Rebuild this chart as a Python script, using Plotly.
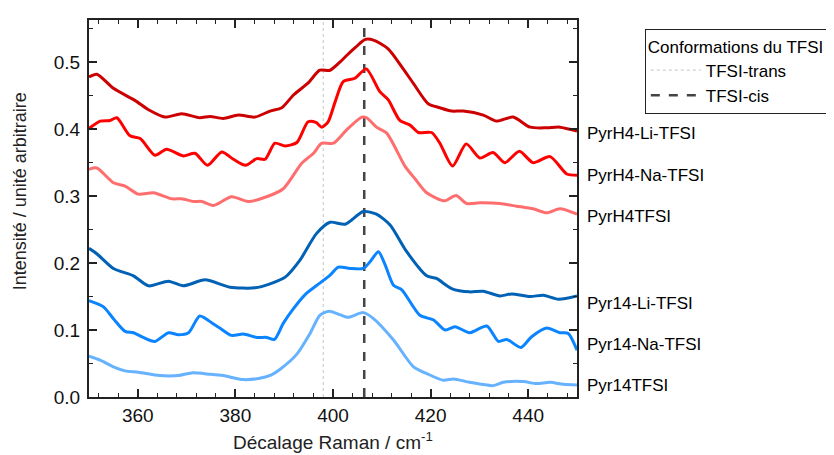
import plotly.graph_objects as go

# ---- data ----
x_h4_li = [350, 351.6, 355, 359.4, 362.2, 365.6, 369, 372.7, 374.8, 377.5, 380.6, 384, 387.1, 389.5, 391.9, 394.9, 397.3, 399.4, 401.4, 402.8, 404.6, 406.6, 408.3, 411.3, 414.1, 416.5, 419.5, 421.9, 424.3, 426.7, 430.8, 433.5, 436.9, 440.4, 443.8, 446.5, 450]
y_h4_li = [0.478, 0.482, 0.461, 0.443, 0.429, 0.418, 0.423, 0.417, 0.419, 0.416, 0.421, 0.418, 0.427, 0.432, 0.451, 0.469, 0.488, 0.488, 0.500, 0.510, 0.522, 0.534, 0.533, 0.520, 0.493, 0.468, 0.438, 0.432, 0.427, 0.427, 0.421, 0.412, 0.418, 0.403, 0.402, 0.403, 0.397]

x_h4_na = [350, 352.3, 354.3, 355.7, 358.4, 360.5, 363.5, 365.9, 369.3, 371.7, 374.3, 377.2, 379.6, 382.1, 384.4, 386.1, 388.1, 390.2, 392.6, 394.9, 396.5, 397.7, 399.0, 400.4, 402.1, 404.5, 406.8, 409.6, 411.3, 413.7, 415.8, 417.5, 420.2, 421.9, 424.5, 427.3, 430.1, 432.8, 435.2, 438.2, 441.0, 444.5, 447.9, 450]
y_h4_na = [0.401, 0.412, 0.413, 0.417, 0.390, 0.386, 0.361, 0.370, 0.360, 0.364, 0.346, 0.366, 0.355, 0.346, 0.356, 0.355, 0.379, 0.375, 0.380, 0.411, 0.410, 0.403, 0.411, 0.440, 0.471, 0.476, 0.490, 0.456, 0.444, 0.413, 0.406, 0.395, 0.395, 0.379, 0.345, 0.378, 0.357, 0.365, 0.350, 0.367, 0.350, 0.359, 0.333, 0.331]

x_h4 = [350, 351.6, 355, 357.4, 360.1, 363.2, 367, 369, 371.4, 373.1, 375.5, 379.2, 382.6, 386.4, 389.8, 393.6, 396, 397.7, 400.1, 402.8, 405.9, 406.9, 408.9, 411, 414.8, 416.8, 419.2, 422.9, 425.2, 427.4, 430.1, 434.2, 437.6, 441, 443.8, 446.5, 450]
y_h4 = [0.340, 0.342, 0.320, 0.315, 0.303, 0.305, 0.296, 0.296, 0.292, 0.292, 0.286, 0.299, 0.292, 0.299, 0.311, 0.349, 0.364, 0.379, 0.379, 0.399, 0.418, 0.417, 0.403, 0.394, 0.344, 0.326, 0.305, 0.293, 0.301, 0.289, 0.290, 0.289, 0.285, 0.281, 0.275, 0.281, 0.273]

x_14_li = [350, 351.6, 355, 359.1, 362.2, 366.3, 369.3, 373.8, 378.9, 384, 387.1, 390.2, 393.2, 396.6, 399.4, 402.5, 406.2, 408.9, 411.7, 415.1, 419.2, 421.2, 424.3, 428, 430.8, 434.2, 436.6, 440.4, 443.1, 446.2, 450]
y_14_li = [0.222, 0.214, 0.192, 0.181, 0.166, 0.173, 0.166, 0.175, 0.164, 0.163, 0.169, 0.179, 0.204, 0.244, 0.261, 0.258, 0.277, 0.273, 0.257, 0.217, 0.181, 0.177, 0.162, 0.157, 0.158, 0.151, 0.154, 0.150, 0.152, 0.146, 0.151]

x_14_na = [350, 352.9, 355, 357.4, 359.1, 361.1, 363.5, 366.3, 368.3, 370.4, 372.7, 375.5, 376.8, 379.2, 381.6, 384.4, 386.4, 388, 389.8, 391.9, 394.3, 397.3, 399.4, 401.1, 403.5, 406.2, 407.6, 409.3, 410.7, 412.4, 414.1, 417.8, 420.6, 423, 425, 428, 431.5, 433.9, 435.6, 438.5, 440.7, 443.8, 446.5, 448.2, 450]
y_14_na = [0.144, 0.135, 0.117, 0.098, 0.096, 0.089, 0.083, 0.096, 0.093, 0.096, 0.121, 0.109, 0.103, 0.092, 0.094, 0.089, 0.089, 0.086, 0.110, 0.132, 0.153, 0.170, 0.182, 0.194, 0.192, 0.192, 0.202, 0.217, 0.197, 0.167, 0.160, 0.122, 0.115, 0.100, 0.105, 0.096, 0.106, 0.083, 0.086, 0.074, 0.090, 0.103, 0.096, 0.095, 0.070]

x_14 = [350, 352.3, 355, 357.4, 360.1, 364.5, 368.3, 371, 374.8, 377.5, 381.6, 385, 387.4, 389.1, 392.6, 395.3, 397.3, 399.2, 401.4, 403.1, 406.2, 408.3, 412.4, 416.5, 419.2, 422.6, 424.7, 428, 432.8, 434.9, 439, 441.7, 444.5, 447.2, 450]
y_14 = [0.061, 0.055, 0.045, 0.039, 0.037, 0.032, 0.032, 0.036, 0.034, 0.032, 0.026, 0.028, 0.033, 0.041, 0.064, 0.095, 0.122, 0.128, 0.123, 0.119, 0.126, 0.117, 0.085, 0.045, 0.035, 0.025, 0.027, 0.022, 0.017, 0.022, 0.023, 0.020, 0.022, 0.019, 0.018]

series_names = ["PyrH4-Li-TFSI", "PyrH4-Na-TFSI", "PyrH4TFSI",
                "Pyr14-Li-TFSI", "Pyr14-Na-TFSI", "Pyr14TFSI"]
series_x = [x_h4_li, x_h4_na, x_h4, x_14_li, x_14_na, x_14]
series_y = [y_h4_li, y_h4_na, y_h4, y_14_li, y_14_na, y_14]

trans_pos = 398.0
cis_pos = 406.4

# ---- styling ----
colors = ["#cc0000", "#ff0000", "#ff6e6e", "#0061b5", "#0a84ff", "#66b2ff"]
label_y = [0.394, 0.331, 0.270, 0.140, 0.078, 0.017]
FONT = "Liberation Sans, Arial, sans-serif"
YMAX = 0.563

fig = go.Figure()

# reference lines (shown in legend)
fig.add_trace(go.Scatter(x=[trans_pos, trans_pos], y=[0, YMAX], mode="lines",
                         line=dict(color="#cfcfcf", width=1.2, dash="dot"),
                         name="TFSI-trans", showlegend=True))
fig.add_trace(go.Scatter(x=[cis_pos, cis_pos], y=[0, YMAX], mode="lines",
                         line=dict(color="#444444", width=2.5, dash="dash"),
                         name="TFSI-cis", showlegend=True))

for name, xs, ys, c in zip(series_names, series_x, series_y, colors):
    fig.add_trace(go.Scatter(x=xs, y=ys, mode="lines", name=name,
                             line=dict(color=c, width=3, shape="spline", smoothing=0.7),
                             showlegend=False))

for name, ly in zip(series_names, label_y):
    fig.add_annotation(x=1.0, xref="paper", y=ly, yref="y", text=name,
                       showarrow=False, xanchor="left", yanchor="middle", xshift=8,
                       font=dict(family=FONT, size=17, color="black"))

# axis titles as annotations for exact placement
fig.add_annotation(x=-0.141, xref="paper", y=0.546, yref="paper",
                   text="Intensité / unité arbitraire", textangle=-90,
                   showarrow=False, xanchor="center", yanchor="middle",
                   font=dict(family=FONT, size=18, color="#222222"))
fig.add_annotation(x=0.5, xref="paper", y=-0.117, yref="paper",
                   text="Décalage Raman / cm<sup>-1</sup>",
                   showarrow=False, xanchor="center", yanchor="middle",
                   font=dict(family=FONT, size=19, color="#222222"))

axis_common = dict(showline=True, linecolor="#222222", linewidth=2, mirror="ticks",
                   ticks="inside", ticklen=8, tickwidth=1.5, tickcolor="#222222",
                   showgrid=False, zeroline=False, automargin=False,
                   tickfont=dict(family=FONT, size=19, color="#111111"))

fig.update_xaxes(range=[350, 450], dtick=20, tick0=0, ticklabelstandoff=0,
                 minor=dict(dtick=4, tick0=0, ticks="inside", ticklen=4, tickcolor="#222222", tickwidth=1.2),
                 **axis_common)
fig.update_yaxes(range=[0, YMAX], dtick=0.1, tick0=0, tickformat=".1f", ticklabelstandoff=3,
                 minor=dict(dtick=0.05, tick0=0, ticks="inside", ticklen=4, tickcolor="#222222", tickwidth=1.2),
                 **axis_common)

# page body has an 8 px margin, so the margins are offset by 8 px
fig.update_layout(
    width=834, height=455,
    margin=dict(l=81, r=265, t=12, b=66, autoexpand=False),
    plot_bgcolor="white", paper_bgcolor="white",
    font=dict(family=FONT, size=17, color="black"),
    legend=dict(x=1.139, y=0.975, xanchor="left", yanchor="top",
                bordercolor="#222222", borderwidth=1, bgcolor="white",
                title=dict(text="Conformations du TFSI", font=dict(family=FONT, size=17)),
                font=dict(family=FONT, size=17), tracegroupgap=0, itemwidth=50),
)

fig.write_html("out.html")
